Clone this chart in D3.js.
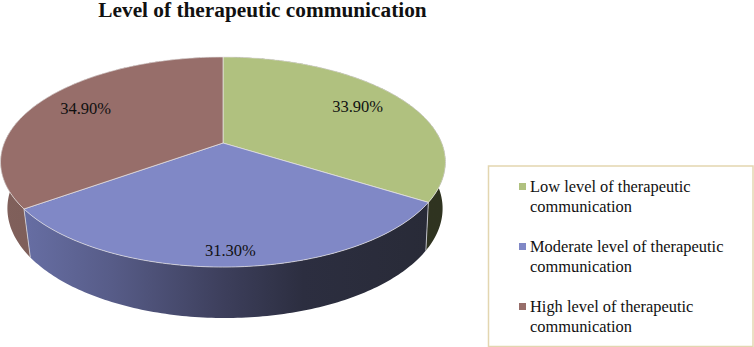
<!DOCTYPE html>
<html>
<head>
<meta charset="utf-8">
<script src="https://cdn.jsdelivr.net/npm/d3@7"></script>
<style>
  html, body { margin: 0; padding: 0; background: #fff; }
  svg { display: block; }
  text { font-family: "Liberation Serif", serif; fill: #111; }
</style>
</head>
<body>
<svg id="chart" width="754" height="347"></svg>
<script>
const title = 'Level of therapeutic communication';
const categories = [
    ['Low level of therapeutic', 'communication'],
    ['Moderate level of therapeutic', 'communication'],
    ['High level of therapeutic', 'communication']
];
const values = [33.9, 31.3, 34.9];
const topColors = ['#b0c17f', '#8088c6', '#976e6a'];
const labelRadius = [0.75, 0.9, 0.75]; // excel pushed the front label out

const svg = d3.select('#chart');

// tilted disc: a unit circle seen in perspective, far side squeezed
const TILT = 0.181;
const project = (disc, angle, r = 1) => {
    const u = r * Math.sin(angle);
    const v = -r * Math.cos(angle);
    const w = 1 - TILT * v;
    return [disc.cx + disc.rx * u / w, disc.cy + disc.ry * v / w];
};
const topDisc = { cx: 223, cy: 143, rx: 218.8, ry: 101.6 };
const baseDisc = { cx: 225, cy: 188.6, rx: 214, ry: 106 };

const slices = d3.pie().sort(null).value(d => d)(values);
const line = d3.line();
const arcAngles = (a, b) => d3.range(0, 121).map(i => a + (b - a) * i / 120);

// gradients for the sides
const defs = svg.append('defs');
const addGradient = (id, stops) => {
    const g = defs.append('linearGradient')
        .attr('id', id)
        .attr('gradientUnits', 'userSpaceOnUse')
        .attr('x1', 0).attr('x2', 446).attr('y1', 0).attr('y2', 0);
    stops.forEach(([o, c]) => g.append('stop').attr('offset', o).attr('stop-color', c));
};
addGradient('side0', [[0, '#31351f'], [1, '#2f3320']]);
addGradient('side1', [[0, '#6b73ab'], [0.25, '#575c88'], [0.5, '#3d3f5c'], [0.68, '#2c2e40'], [1, '#282a36']]);
addGradient('side2', [[0, '#80605b'], [1, '#6a4e4a']]);

// side walls first, the top disc covers whatever is behind
svg.append('g').selectAll('path')
    .data(slices)
    .join('path')
    .attr('d', d => {
        const angles = arcAngles(d.startAngle, d.endAngle);
        const upper = angles.map(a => project(topDisc, a));
        const lower = angles.map(a => project(baseDisc, a)).reverse();
        return line(upper.concat(lower)) + 'Z';
    })
    .attr('fill', (d, i) => `url(#side${i})`);

// seams between the side walls
svg.append('g').selectAll('line')
    .data(slices.slice(0, 2))
    .join('line')
    .attr('x1', d => project(topDisc, d.endAngle)[0])
    .attr('y1', d => project(topDisc, d.endAngle)[1])
    .attr('x2', d => project(baseDisc, d.endAngle)[0])
    .attr('y2', d => project(baseDisc, d.endAngle)[1])
    .attr('stroke', '#d8d8e0')
    .attr('stroke-width', 0.8);

// top faces
svg.append('g').selectAll('path')
    .data(slices)
    .join('path')
    .attr('d', d => {
        const rim = arcAngles(d.startAngle, d.endAngle).map(a => project(topDisc, a));
        return line([[topDisc.cx, topDisc.cy], ...rim]) + 'Z';
    })
    .attr('fill', (d, i) => topColors[i])
    .attr('stroke', '#e6e4e4')
    .attr('stroke-width', 0.7)
    .attr('stroke-linejoin', 'round');

// value labels
svg.append('g').selectAll('text')
    .data(slices)
    .join('text')
    .attr('x', (d, i) => project(topDisc, (d.startAngle + d.endAngle) / 2, labelRadius[i])[0])
    .attr('y', (d, i) => project(topDisc, (d.startAngle + d.endAngle) / 2, labelRadius[i])[1] + 4)
    .attr('text-anchor', 'middle')
    .attr('font-size', 16.5)
    .text(d => d3.format('.2f')(d.value) + '%');

svg.append('text')
    .attr('x', 262.5)
    .attr('y', 17)
    .attr('text-anchor', 'middle')
    .attr('font-size', 21.3)
    .attr('font-weight', 'bold')
    .attr('fill', '#000')
    .text(title);

// legend
svg.append('rect')
    .attr('x', 488.5)
    .attr('y', 166)
    .attr('width', 264.5)
    .attr('height', 180.5)
    .attr('fill', '#fff')
    .attr('stroke', '#e3d6b0')
    .attr('stroke-width', 1.5);

const legendItems = svg.append('g').selectAll('g')
    .data(categories)
    .join('g')
    .attr('transform', (d, i) => `translate(0, ${i * 60})`);

legendItems.append('rect')
    .attr('x', 519)
    .attr('y', 183)
    .attr('width', 7)
    .attr('height', 7)
    .attr('fill', (d, i) => topColors[i]);

legendItems.selectAll('text')
    .data(d => d)
    .join('text')
    .attr('x', 530)
    .attr('y', (d, i) => 192 + i * 20)
    .attr('font-size', 16.4)
    .text(d => d);
</script>
</body>
</html>
